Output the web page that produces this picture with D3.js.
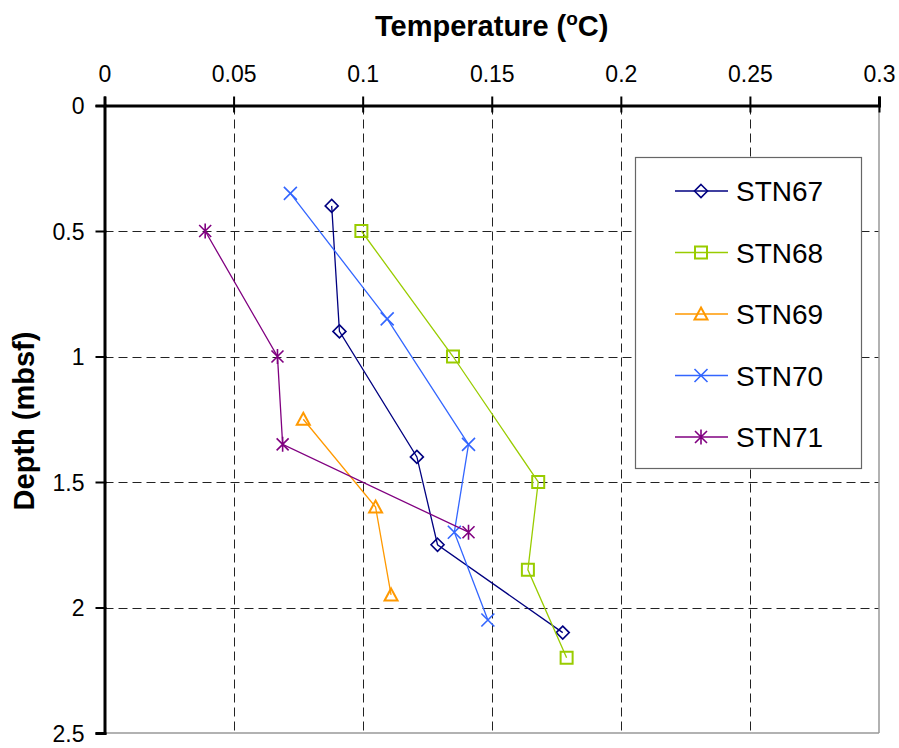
<!DOCTYPE html>
<html>
<head>
<meta charset="utf-8">
<script src="https://cdn.jsdelivr.net/npm/d3@7"></script>
<style>
  body { margin: 0; background: #fff; }
  text { font-family: "Liberation Sans", Arial, sans-serif; fill: #000; }
</style>
</head>
<body>
<div id="chart"></div>
<script>
// depth (mbsf) and temperature (oC) for each station
var series = ["STN67", "STN68", "STN69", "STN70", "STN71"];
var colors = ["#000080", "#99cc00", "#ff9900", "#3366ff", "#800080"];
var markers = ["diamond", "square", "triangle", "cross", "star"];

var depth67 = [0.4, 0.9, 1.4, 1.75, 2.1];
var temp67 = [0.088, 0.091, 0.121, 0.129, 0.1775];
var depth68 = [0.5, 1.0, 1.5, 1.85, 2.2];
var temp68 = [0.0995, 0.135, 0.168, 0.164, 0.179];
var depth69 = [1.25, 1.6, 1.95];
var temp69 = [0.077, 0.105, 0.111];
var depth70 = [0.35, 0.85, 1.35, 1.7, 2.05];
var temp70 = [0.072, 0.1095, 0.141, 0.1355, 0.1485];
var depth71 = [0.5, 1.0, 1.35, 1.7];
var temp71 = [0.039, 0.067, 0.069, 0.141];

var xTicks = [0, 0.05, 0.1, 0.15, 0.2, 0.25, 0.3];
var yTicks = [0, 0.5, 1, 1.5, 2, 2.5];

var depths = [depth67, depth68, depth69, depth70, depth71];
var temps = [temp67, temp68, temp69, temp70, temp71];

var data = series.map(function(name, i) {
    return {
        name: name,
        color: colors[i],
        marker: markers[i],
        values: depths[i].map(function(d, j) { return {depth: d, temp: temps[i][j]}; })
    };
});

var width = 899, height = 748;

var x = d3.scaleLinear().domain([0, 0.3]).range([104.5, 879]),
    y = d3.scaleLinear().domain([0, 2.5]).range([105.5, 733]);

var svg = d3.select("#chart").append("svg")
    .attr("width", width)
    .attr("height", height);

// grid lines
svg.append("g").selectAll("line")
    .data(xTicks.slice(1, -1))
    .enter().append("line")
    .attr("x1", function(d) { return Math.round(x(d)) + 0.5; })
    .attr("x2", function(d) { return Math.round(x(d)) + 0.5; })
    .attr("y1", y(0)).attr("y2", y(2.5))
    .attr("stroke", "#222").attr("stroke-dasharray", "9,5");

svg.append("g").selectAll("line")
    .data(yTicks.slice(1, -1))
    .enter().append("line")
    .attr("y1", function(d) { return Math.round(y(d)) + 0.5; })
    .attr("y2", function(d) { return Math.round(y(d)) + 0.5; })
    .attr("x1", x(0)).attr("x2", x(0.3))
    .attr("stroke", "#222").attr("stroke-dasharray", "9,5");

// right and bottom border
svg.append("line")
    .attr("x1", x(0.3)).attr("x2", x(0.3))
    .attr("y1", y(0)).attr("y2", y(2.5))
    .attr("stroke", "#999").attr("stroke-width", 1.5);
svg.append("line")
    .attr("x1", x(0)).attr("x2", x(0.3))
    .attr("y1", y(2.5)).attr("y2", y(2.5))
    .attr("stroke", "#999").attr("stroke-width", 1.5);

var fmt = function(d) { return String(+d.toFixed(2)); };

var xAxis = d3.axisTop(x).tickValues(xTicks).tickFormat(fmt).tickSizeOuter(0).tickSize(9).tickPadding(15),
    yAxis = d3.axisLeft(y).tickValues(yTicks).tickFormat(fmt).tickSizeOuter(0).tickSize(9).tickPadding(11);

var gx = svg.append("g")
    .attr("transform", "translate(0," + y(0) + ")")
    .call(xAxis);
var gy = svg.append("g")
    .attr("transform", "translate(" + x(0) + ",0)")
    .call(yAxis);

[gx, gy].forEach(function(g) {
    g.select(".domain").attr("stroke", "#000").attr("stroke-width", 3);
    g.selectAll(".tick line").attr("stroke", "#000").attr("stroke-width", 2);
    g.selectAll(".tick text")
        .attr("font-family", "'Liberation Sans', Arial, sans-serif")
        .attr("font-size", 23).attr("fill", "#000");
});
gx.selectAll(".tick line").attr("y2", 7).attr("y1", -9);
gy.selectAll(".tick line").attr("x1", 2);
gy.selectAll(".tick text").attr("dy", "0.36em");

// axis titles
var title = svg.append("text")
    .attr("x", (x(0) + x(0.3)) / 2)
    .attr("y", 36)
    .attr("text-anchor", "middle")
    .attr("font-size", 29)
    .attr("font-weight", "bold");
title.append("tspan").text("Temperature (");
title.append("tspan").attr("font-size", 19).attr("dy", -11).text("o");
title.append("tspan").attr("dy", 11).text("C)");

svg.append("text")
    .attr("transform", "translate(34," + 421 + ") rotate(-90)")
    .attr("text-anchor", "middle")
    .attr("font-size", 29)
    .attr("font-weight", "bold")
    .text("Depth (mbsf)");

// marker shapes
function markerPath(type) {
    if (type == "diamond") return "M0,-6.5L6.5,0L0,6.5L-6.5,0Z";
    if (type == "square") return "M-6,-6H6V6H-6Z";
    if (type == "triangle") return "M0,-6.5L6.5,5.5H-6.5Z";
    if (type == "cross") return "M-6.5,-6.5L6.5,6.5M6.5,-6.5L-6.5,6.5";
    return "M-6,-6L6,6M6,-6L-6,6M0,-7.5V7.5";
}
function markerWidth(type) {
    return (type == "square" || type == "triangle") ? 2 : 1.6;
}

var line = d3.line()
    .x(function(d) { return x(d.temp); })
    .y(function(d) { return y(d.depth); });

var sg = svg.append("g").selectAll("g")
    .data(data)
    .enter().append("g");

sg.append("path")
    .attr("d", function(d) { return line(d.values); })
    .attr("fill", "none")
    .attr("stroke", function(d) { return d.color; })
    .attr("stroke-width", 1.3);

sg.each(function(s) {
    d3.select(this).selectAll(".m")
        .data(s.values)
        .enter().append("path")
        .attr("class", "m")
        .attr("transform", function(d) { return "translate(" + x(d.temp) + "," + y(d.depth) + ")"; })
        .attr("d", markerPath(s.marker))
        .attr("fill", "none")
        .attr("stroke", s.color)
        .attr("stroke-width", markerWidth(s.marker));
});

// legend
var legend = svg.append("g").attr("transform", "translate(635,157)");
legend.append("rect")
    .attr("x", 0.5).attr("y", 0.5)
    .attr("width", 226).attr("height", 311)
    .attr("fill", "#fff").attr("stroke", "#666").attr("stroke-width", 1.2);

var li = legend.selectAll(".li")
    .data(data)
    .enter().append("g")
    .attr("class", "li")
    .attr("transform", function(d, i) { return "translate(0," + (34 + i * 61.5) + ")"; });

li.append("line")
    .attr("x1", 40).attr("x2", 93)
    .attr("stroke", function(d) { return d.color; })
    .attr("stroke-width", 1.3);
li.append("path")
    .attr("transform", "translate(66,0)")
    .attr("d", function(d) { return markerPath(d.marker); })
    .attr("fill", "none")
    .attr("stroke", function(d) { return d.color; })
    .attr("stroke-width", function(d) { return markerWidth(d.marker); });
li.append("text")
    .attr("x", 101).attr("y", 10)
    .attr("font-size", 28)
    .text(function(d) { return d.name; });
</script>
</body>
</html>
